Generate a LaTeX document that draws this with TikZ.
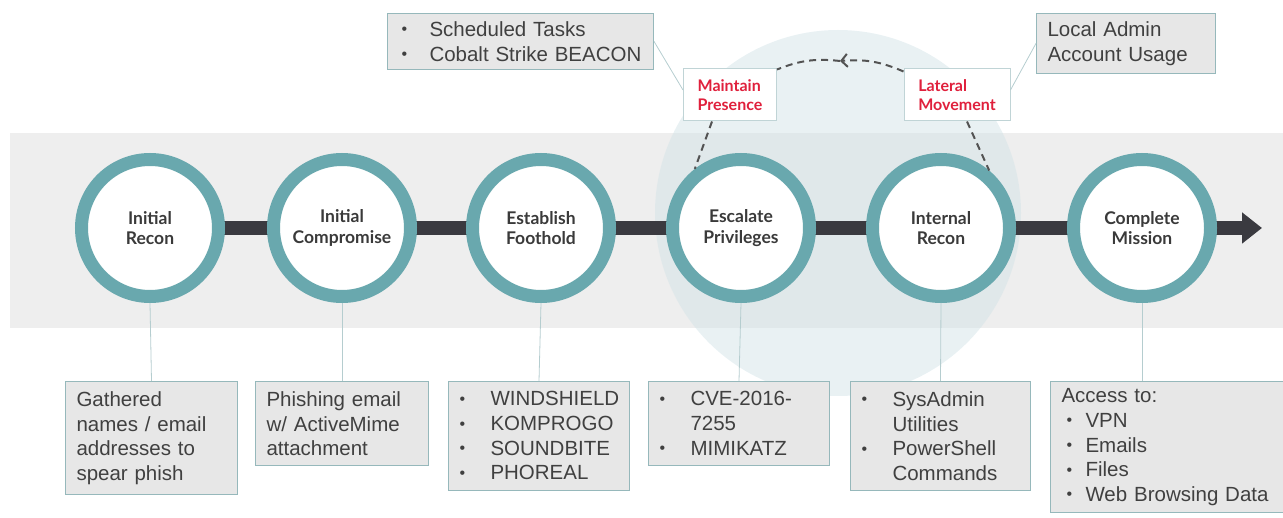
\documentclass[tikz,border=0pt]{standalone}
\usepackage{fontspec}
\setmainfont{Liberation Sans}
\newfontfamily\stagefont{Lato}
\usetikzlibrary{arrows, arrows.meta}

\definecolor{ringteal}{HTML}{69A8AE}
\definecolor{boxfill}{HTML}{E7E7E7}
\definecolor{boxline}{HTML}{96B8BB}
\definecolor{bandgrey}{HTML}{EEEEEE}
\definecolor{haloblue}{HTML}{D4E4E8}
\definecolor{bardark}{HTML}{3A3A40}
\definecolor{labelred}{HTML}{E0203C}
\definecolor{textgrey}{HTML}{404040}

\tikzstyle{stage} =
[
	circle
	, minimum size=137pt
	, line width=13pt
	, draw=ringteal
	, fill=white
	, align=center
	, font=\stagefont\bfseries\fontsize{17.5}{20.5}\selectfont
	, text=textgrey!90!black
]
\tikzstyle{infobox} =
[
	rectangle
	, anchor=north west
	, draw=boxline
	, line width=1pt
	, fill=boxfill
	, align=left
	, inner xsep=11pt
	, inner ysep=10pt
	, font=\fontsize{20.5}{24.7}\selectfont
	, text=textgrey
]
\tikzstyle{tactic} =
[
	rectangle
	, draw=boxline!60
	, line width=1pt
	, fill=white
	, align=left
	, minimum height=52pt
	, font=\stagefont\bfseries\fontsize{16}{19}\selectfont
	, text=labelred
]
\tikzstyle{link} = [draw=boxline!70, line width=0.8pt]
\tikzstyle{hop} = [dash pattern=on 7pt off 5pt, line width=2pt, draw=textgrey!90]
\tikzstyle{arrow} = [line width=14pt, draw=bardark, -{Triangle[length=20pt,width=30pt]}]

\newcommand{\dotmark}{\raisebox{1.5pt}{\fontsize{16}{16}\selectfont\textbullet}}
\newcommand{\bul}[1][31pt]{\makebox[#1][l]{\dotmark}}
\newcommand{\bulgap}{\hspace*{31pt}}
\newcommand{\subbul}{\hspace*{5pt}\makebox[19pt][l]{\dotmark}}

\begin{document}
\begin{tikzpicture}[x=1pt, y=-1pt, node distance=199pt]
\useasboundingbox (0,0) rectangle (1283,518);

% background band and halo
\fill[bandgrey] (10,133) rectangle (1283,328);
\fill[haloblue, opacity=0.5] (838,213) circle (183pt);

% stages
\coordinate(start) at (150,228);
\coordinate(finish) at (1262,228);
\draw[arrow](start)--(finish);

\node(recon)[stage] at (start){Initial\\Recon};
\node(compromise)[stage, right of=recon, xshift=-7pt]{Initial\\Compromise};
\node(foothold)[stage, right of=compromise]{Establish\\Foothold};
\node(escalate)[stage, right of=foothold, xshift=1pt]{Escalate\\Privileges};
\node(internal)[stage, right of=escalate, xshift=1pt]{Internal\\Recon};
\node(mission)[stage, right of=internal, xshift=2pt]{Complete\\Mission};

% details below
\node(b1)[infobox, text width=150pt] at (65,381){Gathered\\names / email\\addresses to\\spear phish};
\node(b2)[infobox, text width=151pt] at (255,381){Phishing email\\w/ ActiveMime\\attachment};
\node(b3)[infobox, text width=159pt] at (448,381){\bul WINDSHIELD\\ \bul KOMPROGO\\ \bul SOUNDBITE\\ \bul PHOREAL};
\node(b4)[infobox, text width=159pt] at (648,381){\bul CVE-2016-\\ \bulgap 7255\\ \bul MIMIKATZ};
\node(b5)[infobox, text width=158pt] at (850,381){\bul SysAdmin\\ \bulgap Utilities\\ \bul PowerShell\\ \bulgap Commands};
\node(b6)[infobox, text width=240pt, inner ysep=7pt] at (1050,381){Access to:\\ \subbul VPN\\ \subbul Emails\\ \subbul Files\\ \subbul Web Browsing Data};

% tactics above
\node(main)[tactic, minimum width=93pt] at (730,95){Maintain\\Presence};
\node(lat)[tactic, minimum width=106pt] at (957,95){Lateral\\Movement};
\node(sched)[infobox, text width=244pt, inner ysep=8pt] at (387,13){\hspace*{3pt}\bul[28pt]Scheduled Tasks\\ \hspace*{3pt}\bul[28pt]Cobalt Strike BEACON};
\node(admin)[infobox, text width=157pt, inner ysep=8pt] at (1036,13){Local Admin\\Account Usage};

\coordinate(apex) at (840,61);
\draw[hop, -{Straight Barb[length=6pt,width=13pt]}]([yshift=-3pt]lat.north west) to[bend right=14] (apex);
\draw[hop](apex) to[bend right=14] ([yshift=-1pt]main.north east);
\draw[hop]([xshift=-18pt]main.south)--(escalate.128);
\draw[hop]([xshift=10pt]lat.south)--(internal.50);

\draw[link](sched.east)--([yshift=5pt]main.west);
\draw[link]([yshift=5pt]lat.east)--(admin.west);

\draw[link](recon.south)--(b1.north);
\draw[link](compromise.south)--(b2.north);
\draw[link](foothold.south)--(b3.north);
\draw[link](escalate.south)--(b4.north);
\draw[link](internal.south)--(b5.north);
\draw[link](mission.south)--(mission.south |- b6.north);

\end{tikzpicture}
\end{document}
